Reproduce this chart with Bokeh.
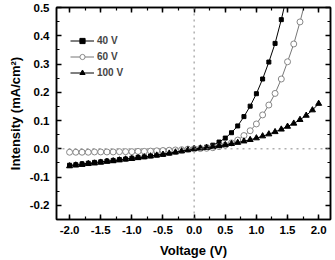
from bokeh.plotting import figure
from bokeh.models import (LinearAxis, SingleIntervalTicker, Span, Range1d,
                          NumeralTickFormatter, Legend, LegendItem, CustomJSTickFormatter)
from bokeh.embed import file_html
from bokeh.resources import INLINE

# ---- data ----
voltage = [-2.0, -1.9, -1.8, -1.7, -1.6, -1.5, -1.4, -1.3, -1.2, -1.1,
           -1.0, -0.9, -0.8, -0.7, -0.6, -0.5, -0.4, -0.3, -0.2, -0.1,
           0.0, 0.1, 0.2, 0.3, 0.4, 0.5, 0.6, 0.7, 0.8, 0.9,
           1.0, 1.1, 1.2, 1.3, 1.4, 1.5, 1.6, 1.7, 1.8, 1.9, 2.0]

v40 = voltage[:36]
i40 = [-0.058, -0.056, -0.053, -0.051, -0.048, -0.046, -0.043, -0.041, -0.038, -0.036,
       -0.033, -0.030, -0.028, -0.025, -0.022, -0.019, -0.015, -0.011, -0.007, -0.003,
       0.000, 0.002, 0.006, 0.013, 0.024, 0.038, 0.057, 0.081, 0.114, 0.151,
       0.195, 0.247, 0.307, 0.373, 0.457, 0.552]

v60 = voltage[:39]
i60 = [-0.012, -0.012, -0.012, -0.012, -0.011, -0.011, -0.011, -0.011, -0.010, -0.010,
       -0.010, -0.009, -0.009, -0.008, -0.007, -0.006, -0.005, -0.004, -0.003, -0.001,
       0.000, 0.001, 0.002, 0.004, 0.008, 0.013, 0.021, 0.031, 0.047, 0.064,
       0.088, 0.120, 0.155, 0.196, 0.247, 0.308, 0.371, 0.449, 0.535]

v100 = voltage
i100 = [-0.061, -0.058, -0.056, -0.053, -0.051, -0.048, -0.045, -0.043, -0.040, -0.037,
        -0.035, -0.032, -0.029, -0.026, -0.023, -0.020, -0.016, -0.012, -0.008, -0.004,
        0.000, 0.002, 0.004, 0.007, 0.011, 0.014, 0.018, 0.022, 0.027, 0.032,
        0.038, 0.045, 0.052, 0.060, 0.069, 0.079, 0.090, 0.103, 0.118, 0.137, 0.160]

labels = ["40 V", "60 V", "100 V"]

FONT = "Liberation Sans"

p = figure(width=335, height=260, output_backend="svg", toolbar_location=None,
           x_range=Range1d(-2.21, 2.19), y_range=Range1d(-0.25, 0.5),
           min_border_left=56, min_border_right=5, min_border_top=7, min_border_bottom=40)
p.grid.visible = False
p.outline_line_color = "black"
p.outline_line_width = 1.5
p.background_fill_color = "white"
p.border_fill_color = "white"

def style_axis(ax, labels_on=True):
    ax.axis_line_color = "black"
    ax.axis_line_width = 1.5
    ax.major_tick_in = 5
    ax.major_tick_out = 0
    ax.minor_tick_in = 3
    ax.minor_tick_out = 0
    ax.major_tick_line_width = 1.5
    ax.minor_tick_line_width = 1.2
    ax.major_label_text_font = FONT
    ax.major_label_text_font_style = "bold"
    ax.major_label_text_font_size = "11.5px"
    ax.major_label_text_color = "black"
    ax.major_label_standoff = 6 if labels_on else 0
    if not labels_on:
        ax.formatter = CustomJSTickFormatter(code="return ''")

xt = SingleIntervalTicker(interval=0.5, num_minor_ticks=2)
yt = SingleIntervalTicker(interval=0.1, num_minor_ticks=2)

p.xaxis.ticker = xt
p.yaxis.ticker = yt
p.xaxis.formatter = NumeralTickFormatter(format="0.0")
p.yaxis.formatter = NumeralTickFormatter(format="0.0")
style_axis(p.xaxis[0])
style_axis(p.yaxis[0])
p.xaxis.major_label_standoff = 6
p.yaxis.major_label_standoff = 7
p.xaxis.axis_label = "Voltage (V)"
p.yaxis.axis_label = "Intensity (mA/cm\u00b2)"
for ax in (p.xaxis[0], p.yaxis[0]):
    ax.axis_label_text_font = FONT
    ax.axis_label_text_font_style = "bold"
    ax.axis_label_text_font_size = "13px"
    ax.axis_label_text_color = "black"
p.xaxis.axis_label_standoff = 6
p.yaxis.axis_label_standoff = 4

top = LinearAxis(ticker=SingleIntervalTicker(interval=0.5, num_minor_ticks=2))
right = LinearAxis(ticker=SingleIntervalTicker(interval=0.1, num_minor_ticks=2))
style_axis(top, False)
style_axis(right, False)
p.add_layout(top, "above")
p.add_layout(right, "right")

p.add_layout(Span(location=0, dimension="height", line_color="#888888",
                  line_dash="dotted", line_width=1))
p.add_layout(Span(location=0, dimension="width", line_color="#888888",
                  line_dash="dotted", line_width=1))

l1 = p.line(v40, i40, line_color="black", line_width=1)
m1 = p.scatter(v40, i40, marker="square", size=4, fill_color="black", line_color="black")
l2 = p.line(v60, i60, line_color="#777777", line_width=1)
m2 = p.scatter(v60, i60, marker="circle", size=6, fill_color="white", line_color="#888888")
l3 = p.line(v100, i100, line_color="black", line_width=1)
m3 = p.scatter(v100, i100, marker="triangle", size=6, fill_color="black", line_color="black")

legend = Legend(items=[LegendItem(label=labels[0], renderers=[l1, m1]),
                       LegendItem(label=labels[1], renderers=[l2, m2]),
                       LegendItem(label=labels[2], renderers=[l3, m3])])
legend.background_fill_alpha = 0
legend.border_line_color = None
legend.label_text_font = FONT
legend.label_text_font_style = "bold"
legend.label_text_font_size = "10px"
legend.glyph_width = 24
legend.glyph_height = 13
legend.label_height = 13
legend.spacing = 3
legend.padding = 0
legend.margin = 0
legend.label_standoff = 3
legend.location = (14, 140)
p.add_layout(legend)

open("out.html", "w").write(file_html(p, INLINE))
